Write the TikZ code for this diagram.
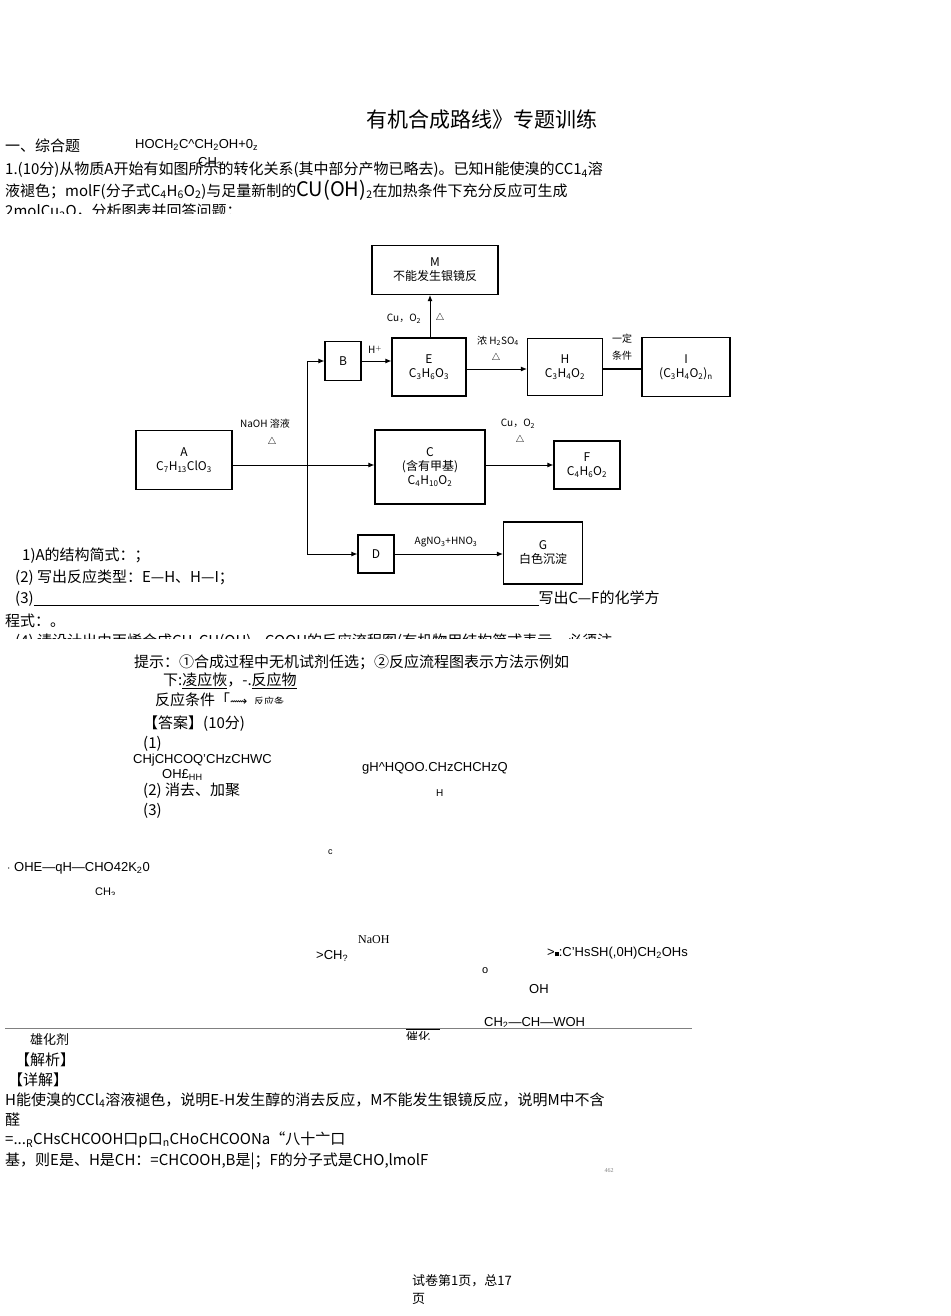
\documentclass[tikz,border=0pt]{standalone}
\usepackage{fontspec}
\setmainfont{Liberation Serif}
\setsansfont{Liberation Sans}
\newfontfamily\cjk{Noto Sans CJK SC}
\newfontfamily\dejavu{DejaVu Sans}
\usetikzlibrary{arrows.meta}
\begin{document}
\begin{tikzpicture}[x=1pt,y=-1pt,
 bx/.style={draw,line width=1.2pt,inner sep=0pt},
 ar/.style={line width=0.9pt,-{Latex[length=6pt,width=5pt]}},
 lb/.style={font=\fontsize{12}{14}\selectfont\cjk,inner sep=1pt},
 el/.style={font=\fontsize{10}{11}\selectfont\cjk,inner sep=1pt},
 tx/.style={anchor=west,font=\fontsize{15}{16}\selectfont\cjk,inner sep=0pt},
 sf/.style={anchor=west,font=\fontsize{13}{14}\selectfont\sffamily,inner sep=0pt}]
\useasboundingbox (0,0) rectangle (950,1316);
\fill[white] (0,0) rectangle (950,1316);
% header
\node[anchor=center,font=\fontsize{21}{22}\selectfont\cjk] (title) at (482,120) {有机合成路线》专题训练};
\node[tx] (s1) at (5,146) {一、综合题};
\node[sf] (h1) at (135,145) {HOCH\textsubscript{2}C\^{}CH\textsubscript{2}OH+0\textsubscript{z}};
\node[sf] (h2) at (198,163) {CH\textsubscript{3}};
\node[tx] (q1) at (5,170) {1.(10分)从物质A开始有如图所示的转化关系(其中部分产物已略去)。已知H能使溴的CC1\textsubscript{4}溶};
\node[tx] (q2) at (5,190) {液褪色；molF(分子式C\textsubscript{4}H\textsubscript{6}O\textsubscript{2})与足量新制的{\fontsize{20}{20}\selectfont CU(OH)}\textsubscript{2}在加热条件下充分反应可生成};
\node[tx] (q3) at (5,212) {2molCu\textsubscript{2}O，分析图表并回答问题：};
\fill[white] (0,214) rectangle (720,230);
% flowchart
\node[bx,minimum width=126pt,minimum height=49pt,align=center,lb] (M) at (435,270) {M\\不能发生银镜反};
\node[bx,minimum width=36pt,minimum height=39pt,lb] (B) at (343,361) {B};
\node[bx,minimum width=74pt,minimum height=58pt,align=center,lb] (E) at (429,367) {E\\C\textsubscript{3}H\textsubscript{6}O\textsubscript{3}};
\node[bx,minimum width=75pt,minimum height=57pt,align=center,lb] (H) at (565,367) {H\\C\textsubscript{3}H\textsubscript{4}O\textsubscript{2}};
\node[bx,minimum width=88pt,minimum height=59pt,align=center,lb] (I) at (686,367) {I\\(C\textsubscript{3}H\textsubscript{4}O\textsubscript{2})\textsubscript{n}};
\node[bx,minimum width=96pt,minimum height=59pt,align=center,lb] (A) at (184,460) {A\\C\textsubscript{7}H\textsubscript{13}ClO\textsubscript{3}};
\node[bx,minimum width=110pt,minimum height=74pt,align=center,lb] (C) at (430,467) {C\\(含有甲基)\\C\textsubscript{4}H\textsubscript{10}O\textsubscript{2}};
\node[bx,minimum width=66pt,minimum height=48pt,align=center,lb] (F) at (587,465) {F\\C\textsubscript{4}H\textsubscript{6}O\textsubscript{2}};
\node[bx,minimum width=36pt,minimum height=38pt,lb] (D) at (376,554) {D};
\node[bx,minimum width=79pt,minimum height=62pt,align=center,lb] (G) at (543,553) {G\\白色沉淀};
\coordinate (j) at (307,465);
\coordinate (jt) at (307,361);
\coordinate (jb) at (307,554);
\draw[line width=0.9pt] (jt) -- (jb);
\draw[ar] (A.east |- j) -- (C.west |- j);
\draw[ar] (jt) -- (B.west);
\draw[ar] (jb) -- (D.west);
\draw[ar] (B.east) -- (E.west |- B.east);
\draw[ar] (E.east |- 0,369) -- (H.west |- 0,369);
\draw[line width=2pt] (H.east |- 0,369) -- (I.west |- 0,369);
\draw[ar] (E.north -| 430,0) -- (M.south -| 430,0);
\draw[ar] (C.east |- 0,465) -- (F.west |- 0,465);
\draw[ar] (D.east) -- (G.west |- D.east);
\node[el] (l1) at (265,424) {NaOH 溶液};
\node[el] (l1b) at (272,442) {$\triangle$};
\node[el] (l2) at (375,350) {H$^+$};
\node[el] (l3) at (498,341) {浓 H\textsubscript{2}SO\textsubscript{4}};
\node[el] (l3b) at (496,358) {$\triangle$};
\node[el] (l4) at (622,339) {一定};
\node[el] (l4b) at (622,356) {条件};
\node[el] (l5) at (404,319) {Cu，O\textsubscript{2}};
\node[el] (l5b) at (440,318) {$\triangle$};
\node[el] (l6) at (518,424) {Cu，O\textsubscript{2}};
\node[el] (l6b) at (520,440) {$\triangle$};
\node[el] (l7) at (446,542) {AgNO\textsubscript{3}+HNO\textsubscript{3}};
% questions
\node[tx] (a1) at (22,556) {1)A的结构简式：；};
\node[tx] (a2) at (15,578) {(2) 写出反应类型：E—H、H—I；};
\node[tx] (a3) at (15,599) {(3)\rule[-2pt]{505pt}{0.5pt}写出C—F的化学方};
\node[tx] (a4) at (5,621) {程式：。};
\node[tx] (a5) at (15,642) {(4) 请设计出由丙烯合成CH\textsubscript{3}CH(OH)—COOH的反应流程图(有机物用结构简式表示，必须注};
\fill[white] (0,639) rectangle (720,652);
\node[tx] (t1) at (134,662) {提示：①合成过程中无机试剂任选；②反应流程图表示方法示例如};
\node[tx] (t2) at (163,681) {下:\underline{凌应恢}，-.\underline{反应物}};
\node[tx] (t3) at (155,700) {反应条件「{\dejavu\fontsize{12}{12}\selectfont ⟿}\ \ {\fontsize{10}{10}\selectfont 反应条}};
\fill[white] (250,704) rectangle (330,712);
\node[tx] (k1) at (143,724) {【答案】(10分)};
\node[tx] (k2) at (143,744) {(1)};
\node[sf] (k3) at (133,760) {CHjCHCOQ'CHzCHWC};
\node[sf] (k4) at (162,775) {OH£\textsubscript{HH}};
\node[sf] (k5) at (362,768) {gH\^{}HQOO.CHzCHCHzQ};
\node[sf,font=\fontsize{10}{11}\selectfont\sffamily] (k6) at (436,793) {H};
\node[tx] (k7) at (143,791) {(2) 消去、加聚};
\node[tx] (k8) at (143,811) {(3)};
\node[sf,font=\fontsize{9}{9}\selectfont\sffamily] (k9) at (328,852) {c};
\node[sf] (k10) at (7,868) {$\cdot$ OHE—qH—CHO42K\textsubscript{2}0};
\node[sf,font=\fontsize{11}{11}\selectfont\sffamily] (k11) at (95,893) {CH\textsubscript{3}};
\fill[white] (80,895) rectangle (140,902);
\node[tx,font=\fontsize{12}{12}\selectfont\rmfamily] (k12) at (358,940) {NaOH};
\node[sf] (k13) at (316,956) {>CH\textsubscript{?}};
\node[sf] (k14) at (547,953) {>\rule{4pt}{4pt}:C'HsSH(,0H)CH\textsubscript{2}OHs};
\node[sf,font=\fontsize{11}{11}\selectfont\sffamily] (k15) at (482,971) {o};
\node[sf] (k16) at (529,989) {OH};
\node[sf] (k17) at (484,1023) {CH\textsubscript{2}—CH—WOH};
\fill[white] (470,1027) rectangle (700,1036);
\draw[line width=0.6pt,gray] (5,1028) -- (692,1028);
\draw[line width=0.6pt] (406,1029) -- (440,1029);
\node[tx,font=\fontsize{13}{13}\selectfont\cjk] (k18) at (30,1040) {雄化剂};
\node[tx,font=\fontsize{12}{12}\selectfont\cjk] (k19) at (406,1037) {催化};
\fill[white] (400,1040) rectangle (450,1046);
\node[tx] (j1) at (15,1060) {【解析】};
\node[tx] (j2) at (8,1080) {【详解】};
\node[tx] (j3) at (5,1100) {H能使溴的CCl\textsubscript{4}溶液褪色，说明E-H发生醇的消去反应，M不能发生银镜反应，说明M中不含};
\node[tx] (j4) at (5,1120) {醛};
\node[tx] (j5) at (5,1140) {=...\textsubscript{R}CHsCHCOOH口p口\textsubscript{n}CHoCHCOONa“八十亠口};
\node[tx] (j6) at (5,1161) {基，则E是、H是CH：=CHCOOH,B是|；F的分子式是CHO,lmolF};
\node[font=\fontsize{6}{6}\selectfont,inner sep=0pt,gray] (pn) at (609,1171) {462};
\node[tx,font=\fontsize{13}{13}\selectfont\cjk] (f1) at (412,1281) {试卷第1页，总17};
\node[tx,font=\fontsize{13}{13}\selectfont\cjk] (f2) at (412,1299) {页};
\end{tikzpicture}
\end{document}
